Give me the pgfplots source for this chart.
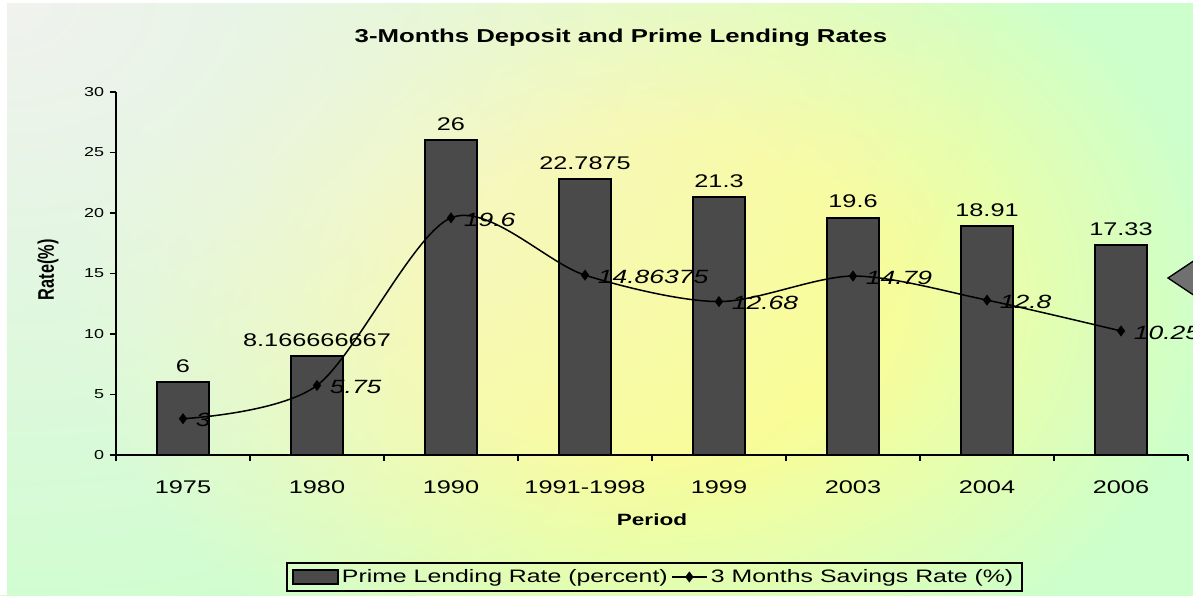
\documentclass[border=0pt]{standalone}
\usepackage{pgfplots}
\pgfplotsset{compat=1.18}
\usepackage{pgfplotstable}
\usepackage{fontspec}
\setmainfont{Liberation Sans}[FakeStretch=1.38]
\newfontfamily\plainsans{Liberation Sans}
\usetikzlibrary{fadings}

\definecolor{bggreen}{HTML}{CCFFCC}
\definecolor{bgyellow}{HTML}{FAFD96}
\definecolor{bgwhite}{HTML}{F1F2EF}
\definecolor{bardark}{HTML}{4A4A4A}
\definecolor{arrowgray}{HTML}{707070}
\pgfdeclareradialshading{bgshade}{\pgfpointorigin}{color(0bp)=(bgyellow); color(6bp)=(bgyellow); color(16bp)=(bggreen); color(50bp)=(bggreen)}
\tikzfading[name=cornerfade, inner color=transparent!0, outer color=transparent!100]

\pgfplotsset{
  barlegend/.style={legend image code/.code={\draw[##1] (0pt,-4.2pt) rectangle (27pt,4.2pt);}},
  linelegend/.style={legend image code/.code={\draw[mark repeat=2, mark phase=2, ##1] plot coordinates {(0pt,0pt) (10.5pt,0pt) (21pt,0pt)};}},
}

\pgfplotstableread{
x y label
0 6 6
1 8.166666667 8.166666667
2 26 26
3 22.7875 22.7875
4 21.3 21.3
5 19.6 19.6
6 18.91 18.91
7 17.33 17.33
}\primedata
\pgfplotstableread{
x y label
0 3 3
1 5.75 5.75
2 19.6 19.6
3 14.86375 14.86375
4 12.68 12.68
5 14.79 14.79
6 12.8 12.8
7 10.25 10.25
}\savingsdata

\begin{document}
\begin{tikzpicture}
\useasboundingbox (0,0) rectangle (715.8pt,357pt);
\begin{scope}[x=0.6pt,y=0.6pt]
\clip (0,0) rectangle (1193,595);
\fill[bggreen] (0,0) rectangle (1193,595);
\shade[shading=bgshade] (650-900,300-660) rectangle (650+900,300+660);
\fill[bgwhite, path fading=cornerfade] (0,595) ellipse (1000 and 700);
\fill[white] (0,0) rectangle (7,595);
\fill[white] (0,592) rectangle (1193,595);
\end{scope}
\begin{axis}[
  at={(69.6pt,84pt)}, anchor=south west, scale only axis,
  width=643.2pt, height=217.8pt,
  xmin=-0.5, xmax=7.5, ymin=0, ymax=30,
  axis x line*=bottom, axis y line*=left,
  axis line style={line width=1.2pt, -},
  tick align=outside,
  major tick length=3.6pt, minor tick length=3.6pt,
  tick style={black, line width=1pt},
  xtick={0,1,2,3,4,5,6,7},
  xticklabels={1975,1980,1990,1991-1998,1999,2003,2004,2006},
  minor xtick={-0.5,0.5,1.5,2.5,3.5,4.5,5.5,6.5,7.5},
  every major x tick/.append style={draw=none},
  ytick={0,5,10,15,20,25,30},
  /pgf/number format/assume math mode=true,
  yticklabel style={font=\fontsize{7.8}{9}\selectfont},
  xticklabel style={font=\fontsize{11}{13}\selectfont, yshift=-8.4pt},
  title={3-Months Deposit and Prime Lending Rates},
  title style={font=\bfseries\fontsize{11.2}{13}\selectfont, at={(0.471,1.121)}, anchor=center},
  xlabel={Period},
  xlabel style={font=\bfseries\fontsize{9.8}{12}\selectfont, at={(0.5,-0.179)}, anchor=center},
  ylabel={\plainsans\bfseries\fontsize{9.8}{12}\selectfont\scalebox{1}[1.38]{Rate(\%)}},
  ylabel style={at={(-0.0634,0.51)}, anchor=center},
  legend style={at={(0.502,-0.336)}, anchor=center, legend columns=2, draw=black,
    line width=1.2pt, fill=none, font=\fontsize{10.8}{13}\selectfont,
    inner xsep=3pt, inner ysep=1.5pt,
    /tikz/every even column/.append style={column sep=0pt}},
  clip=false,
]
\addplot[ybar, bar width=31.2pt, fill=bardark, draw=black, line width=1.2pt,
  nodes near coords, point meta=explicit symbolic,
  nodes near coords style={font=\fontsize{11}{13}\selectfont, black, yshift=2pt},
  barlegend]
  table[x=x,y=y,meta=label]{\primedata};
\addlegendentry{Prime Lending Rate (percent)}
\addplot[black, line width=0.9pt, smooth, mark=diamond*, mark size=2.6pt,
  mark options={solid, fill=black},
  nodes near coords, point meta=explicit symbolic,
  nodes near coords style={anchor=west, font=\itshape\fontsize{11.5}{13}\selectfont, black, xshift=4pt, yshift=-1pt},
  linelegend]
  table[x=x,y=y,meta=label]{\savingsdata};
\addlegendentry{3 Months Savings Rate (\%)}
\end{axis}
\draw[line width=0.8pt, fill=arrowgray] (700.8pt,190.2pt) -- (717pt,201pt) -- (717pt,179.4pt) -- cycle;
\end{tikzpicture}
\end{document}
